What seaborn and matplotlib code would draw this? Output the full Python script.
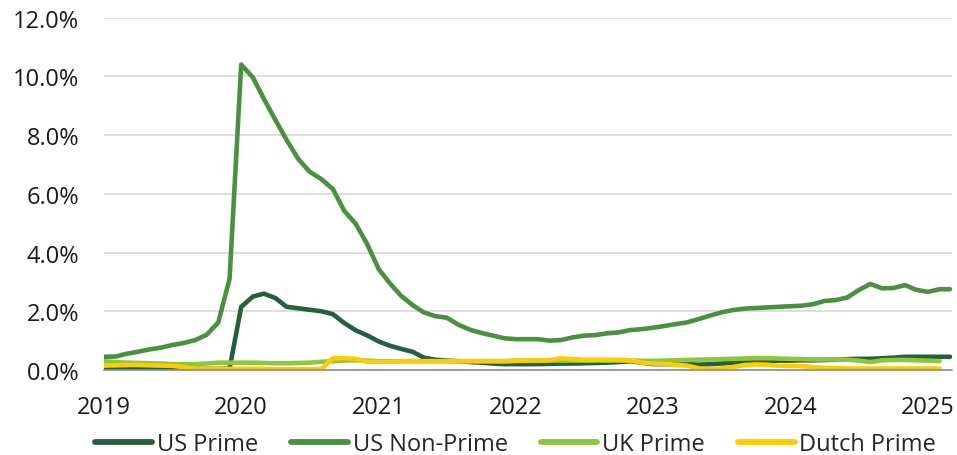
import pandas as pd
import matplotlib
matplotlib.use("Agg")
import matplotlib.pyplot as plt
import matplotlib.dates as mdates
from matplotlib.ticker import FuncFormatter
import seaborn as sns

# monthly delinquency rates (%), Jan 2019 onwards
us_prime = [0.04, 0.04, 0.04, 0.04, 0.04, 0.04, 0.04, 0.04, 0.04, 0.04, 0.04, 0.05,
            2.15, 2.5, 2.6, 2.45, 2.15, 2.1, 2.05, 2.0, 1.9, 1.6, 1.35, 1.18,
            0.97, 0.82, 0.72, 0.62, 0.42, 0.35, 0.32, 0.3, 0.27, 0.25, 0.22, 0.2,
            0.2, 0.2, 0.2, 0.21, 0.22, 0.22, 0.23, 0.24, 0.25, 0.27, 0.3, 0.25,
            0.2, 0.2, 0.2, 0.2, 0.18, 0.2, 0.22, 0.25, 0.27, 0.3, 0.3, 0.32,
            0.32, 0.33, 0.33, 0.34, 0.35, 0.37, 0.38, 0.38, 0.4, 0.42, 0.45, 0.45,
            0.45, 0.45, 0.45]
us_nonprime = [0.45, 0.46, 0.55, 0.62, 0.7, 0.76, 0.85, 0.92, 1.02, 1.2, 1.62, 3.1,
               10.4, 9.96, 9.24, 8.51, 7.83, 7.18, 6.75, 6.5, 6.16, 5.42, 4.97, 4.29,
               3.43, 2.93, 2.53, 2.21, 1.96, 1.83, 1.78, 1.54, 1.37, 1.26, 1.17, 1.08,
               1.05, 1.05, 1.05, 1.0, 1.02, 1.11, 1.17, 1.19, 1.25, 1.28, 1.36, 1.39,
               1.44, 1.5, 1.56, 1.62, 1.73, 1.85, 1.96, 2.04, 2.09, 2.11, 2.13, 2.15,
               2.17, 2.19, 2.24, 2.35, 2.38, 2.47, 2.72, 2.93, 2.78, 2.79, 2.89, 2.73,
               2.66, 2.75, 2.75]
uk_prime = [0.3, 0.27, 0.25, 0.24, 0.23, 0.22, 0.2, 0.2, 0.2, 0.22, 0.25, 0.25,
            0.25, 0.25, 0.24, 0.23, 0.23, 0.24, 0.25, 0.28, 0.3, 0.32, 0.33, 0.32,
            0.3, 0.3, 0.3, 0.3, 0.3, 0.3, 0.3, 0.3, 0.3, 0.3, 0.3, 0.3,
            0.32, 0.32, 0.32, 0.32, 0.32, 0.32, 0.32, 0.32, 0.32, 0.32, 0.32, 0.31,
            0.31, 0.32, 0.33, 0.34, 0.35, 0.36, 0.37, 0.38, 0.39, 0.4, 0.4, 0.39,
            0.38, 0.37, 0.36, 0.36, 0.36, 0.35, 0.32, 0.27, 0.33, 0.34, 0.34, 0.33,
            0.32, 0.3]
dutch_prime = [0.15, 0.16, 0.17, 0.17, 0.16, 0.15, 0.14, 0.1, 0.04, 0.04, 0.04, 0.04,
               0.04, 0.04, 0.04, 0.03, 0.03, 0.03, 0.03, 0.03, 0.4, 0.4, 0.38, 0.28,
               0.28, 0.28, 0.3, 0.3, 0.3, 0.3, 0.3, 0.3, 0.3, 0.3, 0.3, 0.3,
               0.31, 0.32, 0.32, 0.34, 0.4, 0.37, 0.35, 0.35, 0.35, 0.35, 0.33, 0.25,
               0.22, 0.21, 0.18, 0.15, 0.06, 0.03, 0.05, 0.1, 0.17, 0.19, 0.18, 0.14,
               0.14, 0.13, 0.1, 0.07, 0.06, 0.05, 0.05, 0.05, 0.05, 0.05, 0.05, 0.05,
               0.05, 0.05]

series = {"US Prime": us_prime, "US Non-Prime": us_nonprime,
          "UK Prime": uk_prime, "Dutch Prime": dutch_prime}
colors = ["#24603D", "#4A913F", "#8DC63F", "#FFCC00"]

frames = []
for name, vals in series.items():
    dates = pd.date_range("2019-01-01", periods=len(vals), freq="MS")
    frames.append(pd.DataFrame({"date": dates, "rate": vals, "series": name}))
df = pd.concat(frames, ignore_index=True)

sns.set_style("white")
plt.rcParams["font.family"] = ["Open Sans", "DejaVu Sans"]

fig = plt.figure(figsize=(9.57, 4.56), dpi=100)
ax = fig.add_axes([0.1087, 0.1864, 0.886, 0.773])

sns.lineplot(data=df, x="date", y="rate", hue="series", palette=colors,
             linewidth=3.3, ax=ax, legend=True)

ax.set_ylim(0, 12)
ax.set_yticks(range(0, 13, 2))
ax.yaxis.set_major_formatter(FuncFormatter(lambda v, p: f"{v:.1f}%"))
ax.set_xlim(pd.Timestamp("2019-01-01"), pd.Timestamp("2025-03-06"))
ax.xaxis.set_major_locator(mdates.YearLocator())
ax.xaxis.set_major_formatter(mdates.DateFormatter("%Y"))

ax.grid(axis="y", color="#D9D9D9", linewidth=1.2)
ax.set_axisbelow(True)
for s in ["top", "right", "left"]:
    ax.spines[s].set_visible(False)
ax.spines["bottom"].set_color("#8C8C8C")
ax.spines["bottom"].set_linewidth(1.2)
ax.tick_params(axis="both", length=0, labelsize=17, colors="#1A1A1A")
ax.tick_params(axis="y", pad=18)
ax.tick_params(axis="x", pad=18)
ax.set_xlabel("")
ax.set_ylabel("")

handles, labels = ax.get_legend_handles_labels()
for h in handles:
    h.set_linewidth(4.2)
ax.legend(handles, labels, loc="center", bbox_to_anchor=(0.539, 0.024),
          bbox_transform=fig.transFigure, ncol=4, frameon=False, fontsize=17,
          handlelength=2.4, handletextpad=0.2, columnspacing=1.4)

fig.savefig("out.png", dpi=100)
